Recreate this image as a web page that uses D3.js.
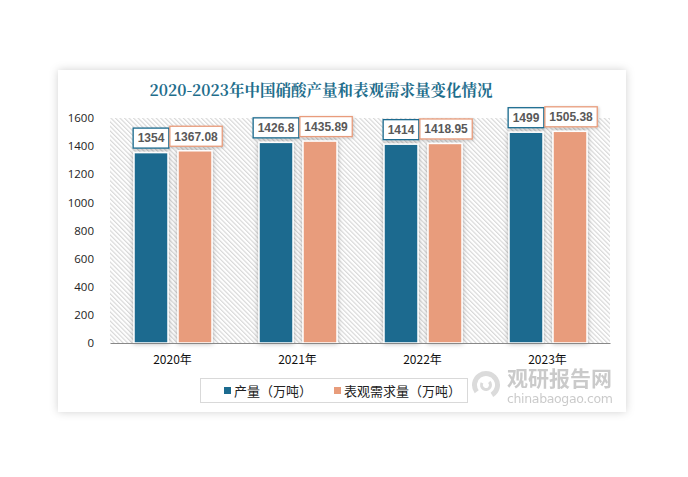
<!DOCTYPE html>
<html>
<head>
<meta charset="utf-8">
<script src="https://cdn.jsdelivr.net/npm/d3@7"></script>
<style>
  html, body { margin: 0; padding: 0; background: #fff; }
  svg { display: block; font-family: "Noto Sans CJK SC", "Noto Sans", sans-serif; }
</style>
</head>
<body>
<svg id="chart" width="688" height="477"></svg>
<script>
// 2020-2023 nitric acid output vs apparent demand

const years = ['2020年', '2021年', '2022年', '2023年'];
const output = [1354, 1426.8, 1414, 1499];
const demand = [1367.08, 1435.89, 1418.95, 1505.38];
const yTicks = [0, 200, 400, 600, 800, 1000, 1200, 1400, 1600];
const seriesNames = ['产量（万吨）', '表观需求量（万吨）'];
const colors = ['#1c6b8f', '#e89c7b'];

const svg = d3.select('#chart');
const defs = svg.append('defs');

const cardShadow = defs.append('filter').attr('id', 'cardShadow').attr('x', '-10%').attr('y', '-10%').attr('width', '120%').attr('height', '120%');
cardShadow.append('feDropShadow').attr('dx', 0).attr('dy', 0).attr('stdDeviation', 4).attr('flood-color', '#000').attr('flood-opacity', 0.18);

const barShadow = defs.append('filter').attr('id', 'barShadow').attr('x', '-40%').attr('y', '-10%').attr('width', '180%').attr('height', '120%');
barShadow.append('feDropShadow').attr('dx', 0).attr('dy', 0).attr('stdDeviation', 2.5).attr('flood-color', '#000').attr('flood-opacity', 0.3);

const boxShadow = defs.append('filter').attr('id', 'boxShadow').attr('x', '-20%').attr('y', '-30%').attr('width', '140%').attr('height', '160%');
boxShadow.append('feDropShadow').attr('dx', 1).attr('dy', 1).attr('stdDeviation', 1.5).attr('flood-color', '#000').attr('flood-opacity', 0.2);

const hatch = defs.append('pattern').attr('id', 'hatch').attr('width', 3.2).attr('height', 3.2)
    .attr('patternUnits', 'userSpaceOnUse').attr('patternTransform', 'rotate(-45)');
hatch.append('rect').attr('width', 3.2).attr('height', 3.2).attr('fill', '#fff');
hatch.append('line').attr('x1', 0.6).attr('y1', 0).attr('x2', 0.6).attr('y2', 3.2).attr('stroke', '#d6d6d6').attr('stroke-width', 1.1);

// background card
svg.append('rect').attr('width', 688).attr('height', 477).attr('fill', '#fff');
svg.append('rect').attr('x', 58).attr('y', 70).attr('width', 568).attr('height', 342).attr('fill', '#fff').attr('filter', 'url(#cardShadow)');

svg.append('text').attr('x', 321).attr('y', 96).attr('text-anchor', 'middle')
    .style('fill', '#1f6e8c').style('font-size', '15.5px').style('font-weight', 'bold')
    .style('font-family', '"Noto Serif CJK SC", "Noto Sans CJK SC", serif')
    .text('2020-2023年中国硝酸产量和表观需求量变化情况');

const margin = { top: 118, left: 110 };
const chartWidth = 500;
const chartHeight = 225;

const g = svg.append('g').attr('transform', `translate(${margin.left}, ${margin.top})`);
const x = d3.scaleBand().domain(years).range([0, chartWidth]).paddingInner(0).paddingOuter(0);
const y = d3.scaleLinear().domain([0, 1600]).range([chartHeight, 0]);

g.append('rect').attr('width', chartWidth).attr('height', chartHeight).attr('fill', 'url(#hatch)');

const yAxis = d3.axisLeft(y).tickValues(yTicks).tickFormat(d3.format('d')).tickSize(0).tickPadding(16);
const yAxisG = g.append('g').call(yAxis);
yAxisG.select('.domain').remove();
yAxisG.selectAll('.tick text').style('fill', '#222').style('font-size', '11.5px').style('font-family', '"Open Sans", "Noto Sans", sans-serif');

const barWidth = 34;
const gap = 10;
const series = [output, demand];
const barX = (yr, si) => x(yr) + x.bandwidth() / 2 + (si === 0 ? -(barWidth + gap / 2) : gap / 2) + 0.5;

series.forEach((vals, si) => {
    g.selectAll(`rect.bar-${si}`)
        .data(years.map((yr, i) => ({ yr, v: vals[i] })))
        .enter()
        .append('rect')
        .attr('class', `bar-${si}`)
        .attr('x', d => barX(d.yr, si))
        .attr('y', d => y(d.v))
        .attr('width', barWidth)
        .attr('height', d => chartHeight - y(d.v))
        .attr('fill', colors[si])
        .attr('stroke', '#fff')
        .attr('stroke-width', 1.5)
        .attr('filter', 'url(#barShadow)');
});

const xAxis = d3.axisBottom(x).tickSize(0).tickPadding(12);
const xAxisG = g.append('g').attr('transform', `translate(0, ${chartHeight})`).call(xAxis);
xAxisG.select('.domain').attr('stroke', '#888').attr('stroke-width', 1.2);
xAxisG.selectAll('.tick text').style('fill', '#111').style('font-size', '12px').style('font-family', '"Noto Sans CJK SC", sans-serif');

// data labels: boxed, second series nudged right when boxes would collide
years.forEach((yr, i) => {
    let prevRight = -Infinity;
    series.forEach((vals, si) => {
        const cx = barX(yr, si) + barWidth / 2;
        const cy = y(vals[i]) - 14.5;
        const lg = g.append('g');
        const t = lg.append('text')
            .attr('text-anchor', 'middle').attr('dy', '0.36em')
            .style('fill', '#595959').style('font-size', '12px').style('font-weight', 'bold')
            .style('font-family', '"Liberation Sans", Arial, sans-serif')
            .text(String(vals[i]));
        const w = t.node().getComputedTextLength() + 9;
        let left = cx - w / 2;
        if (left < prevRight + 1) left = prevRight + 1;
        prevRight = left + w;
        lg.insert('rect', 'text')
            .attr('x', -w / 2).attr('y', -10).attr('width', w).attr('height', 20)
            .attr('fill', '#fff').attr('stroke', colors[si]).attr('stroke-width', 1.3)
            .attr('filter', 'url(#boxShadow)');
        lg.attr('transform', `translate(${left + w / 2}, ${cy})`);
    });
});

// watermark
const wm = svg.append('g').style('opacity', 0.6);
wm.append('path').attr('d', d3.arc()({ innerRadius: 9, outerRadius: 14, startAngle: -2.2, endAngle: 2.6 }))
    .attr('transform', 'translate(486,385)').attr('fill', '#c4c4c4');
wm.append('path').attr('d', d3.arc()({ innerRadius: 3, outerRadius: 6, startAngle: 0.8, endAngle: 5.2 }))
    .attr('transform', 'translate(486,385)').attr('fill', '#c4c4c4');
wm.append('text').attr('x', 507).attr('y', 386).style('fill', '#a8a8a8').style('font-size', '21px').style('font-weight', 'bold').text('观研报告网');
wm.append('text').attr('x', 507).attr('y', 403).attr('textLength', 106).style('fill', '#a8a8a8').style('font-size', '12.5px').style('font-family', '"DejaVu Sans", sans-serif').text('chinabaogao.com');

// legend
const legend = svg.append('g');
legend.append('rect').attr('x', 200.5).attr('y', 378.5).attr('width', 267).attr('height', 24).attr('fill', 'none').attr('stroke', '#d9d9d9');
const legendX = [224, 334];
seriesNames.forEach((name, i) => {
    legend.append('rect').attr('x', legendX[i]).attr('y', 387).attr('width', 7).attr('height', 7).attr('fill', colors[i]);
    legend.append('text').attr('x', legendX[i] + 10).attr('y', 395.5).style('fill', '#222').style('font-size', '13px').text(name);
});
</script>
</body>
</html>
